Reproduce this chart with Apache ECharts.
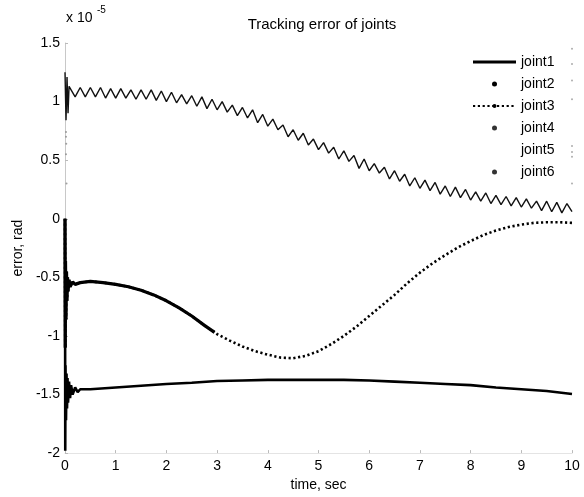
<!DOCTYPE html>
<html>
<head>
<meta charset="utf-8">
<script src="https://cdn.jsdelivr.net/npm/echarts@6/dist/echarts.min.js"></script>
<style>html,body{margin:0;padding:0;background:#fff}#c{width:584px;height:497px}</style>
</head>
<body>
<div id="c"></div>
<script>
// ---- data (units of 1e-5 rad) ----
const xTicks = [0,1,2,3,4,5,6,7,8,9,10];
const yTicks = [-2,-1.5,-1,-0.5,0,0.5,1,1.5];

const joint1T = [0,0.005,0.01,0.02,0.03,0.04,0.05,0.06,0.08,0.1,0.12,0.15,0.2,0.25,0.3,0.5,1,1.5,2,2.5,3,3.5,4,4.5,5,5.5,6,6.5,7,7.5,8,8.5,9,9.5,10];
const joint1V = [0,-1.98,-1.25,-1.72,-1.32,-1.62,-1.36,-1.57,-1.39,-1.53,-1.42,-1.5,-1.44,-1.48,-1.455,-1.455,-1.44,-1.425,-1.41,-1.40,-1.385,-1.38,-1.375,-1.375,-1.375,-1.375,-1.38,-1.39,-1.40,-1.41,-1.42,-1.44,-1.455,-1.47,-1.495];

const joint2T = [0,0.02,0.04,0.06,0.08,0.1,0.2,0.3,0.4,0.5,0.6,0.7,0.8,0.9,1.0,1.1,1.2,1.3,1.4,1.5,1.6,1.7,1.8,1.9,2.0,2.1,2.2,2.3,2.4,2.5,2.6,2.7,2.8,2.9,3.0,3.1,3.2,3.3,3.4,3.5,3.6,3.7,3.8,3.9,4.0,4.1,4.2,4.3,4.4,4.5,4.6,4.7,4.8,4.9,5.0,5.1,5.2,5.3,5.4,5.5,5.6,5.7,5.8,5.9,6.0,6.1,6.2,6.3,6.4,6.5,6.6,6.7,6.8,6.9,7.0,7.1,7.2,7.3,7.4,7.5,7.6,7.7,7.8,7.9,8.0,8.1,8.2,8.3,8.4,8.5,8.6,8.7,8.8,8.9,9.0,9.1,9.2,9.3,9.4,9.5,9.6,9.7,9.8,9.9,10.0];
const joint2V = [1.25,0.84,1.21,0.9,1.13,1.12,1.04,1.12,1.04,1.12,1.04,1.12,1.03,1.11,1.03,1.11,1.03,1.10,1.02,1.10,1.02,1.10,1.01,1.09,1.00,1.08,0.99,1.06,0.98,1.05,0.96,1.04,0.94,1.02,0.93,1.00,0.91,0.97,0.88,0.95,0.86,0.93,0.82,0.89,0.79,0.85,0.76,0.80,0.70,0.76,0.67,0.73,0.63,0.68,0.59,0.65,0.56,0.61,0.51,0.58,0.49,0.54,0.43,0.51,0.41,0.47,0.39,0.44,0.34,0.41,0.32,0.38,0.28,0.35,0.26,0.33,0.24,0.31,0.21,0.28,0.19,0.27,0.18,0.25,0.16,0.23,0.15,0.22,0.13,0.20,0.12,0.19,0.11,0.18,0.10,0.17,0.09,0.15,0.07,0.15,0.06,0.14,0.05,0.13,0.06];

const joint3T = [0,0.005,0.01,0.02,0.03,0.04,0.05,0.06,0.08,0.1,0.15,0.2,0.3,0.5,0.75,1,1.25,1.5,1.75,2,2.25,2.5,2.75,2.95,3,3.25,3.5,3.75,4,4.25,4.5,4.75,5,5.25,5.5,5.75,6,6.25,6.5,6.75,7,7.25,7.5,7.75,8,8.25,8.5,8.75,9,9.25,9.5,9.75,10];
const joint3V = [0,-1.1,-0.36,-0.86,-0.45,-0.7,-0.5,-0.62,-0.52,-0.58,-0.54,-0.56,-0.545,-0.535,-0.545,-0.56,-0.58,-0.61,-0.65,-0.70,-0.76,-0.83,-0.91,-0.97,-0.985,-1.04,-1.09,-1.13,-1.16,-1.185,-1.19,-1.17,-1.13,-1.07,-1.0,-0.92,-0.83,-0.74,-0.65,-0.55,-0.46,-0.38,-0.31,-0.245,-0.19,-0.14,-0.10,-0.07,-0.05,-0.035,-0.03,-0.03,-0.035];

const joint4T = [0.02,0.02,0.025,0.02,0.03];
const joint4V = [0.74,0.70,0.64,0.55,0.30];
const joint6T = [10,10,10,10,10,10,10,10];
const joint6V = [1.45,1.32,1.18,1.02,0.62,0.57,0.53,0.30];

function pairs(t, v){ return t.map((x,i)=>[x, v[i]]); }
const denseEnd = 24; // joint3 drawn as heavy line up to t=2.95

const chart = echarts.init(document.getElementById('c'), null, {renderer:'canvas'});
const font = 'Liberation Sans, Arial, sans-serif';
chart.setOption({
  animation:false,
  backgroundColor:'#fff',
  title:{text:'Tracking error of joints', left:317, textAlign:'center', top:12,
    textStyle:{fontFamily:font, fontSize:15, fontWeight:'normal', color:'#000'}},
  grid:{left:65, right:12, top:43, bottom:40},
  legend:{
    orient:'vertical', left:472, top:55, padding:0, itemWidth:43, itemHeight:5, itemGap:8,
    textStyle:{fontFamily:font, fontSize:14, color:'#000'},
    data:[
      {name:'joint1', icon:'path://M0,0h43v3h-43z', itemStyle:{color:'#000'}},
      {name:'joint2', icon:'circle', itemStyle:{color:'#000'}},
      {name:'joint3'},
      {name:'joint4', icon:'circle', itemStyle:{color:'#000'}},
      {name:'joint5', icon:'circle', itemStyle:{color:'rgba(0,0,0,0)'}},
      {name:'joint6', icon:'circle', itemStyle:{color:'#000'}}
    ]
  },
  xAxis:{type:'value', min:xTicks[0], max:xTicks[xTicks.length-1], interval:1,
    name:'time, sec', nameLocation:'middle', nameGap:23,
    nameTextStyle:{fontFamily:font, fontSize:14, color:'#000'},
    axisLine:{show:true, onZero:false, lineStyle:{color:'#e4e4e4'}},
    axisTick:{inside:true, length:3, lineStyle:{color:'#bbb'}},
    axisLabel:{fontFamily:font, fontSize:14, color:'#000', margin:6},
    splitLine:{show:false}},
  yAxis:{type:'value', min:yTicks[0], max:yTicks[yTicks.length-1], interval:0.5,
    name:'error, rad', nameLocation:'middle', nameGap:40,
    nameTextStyle:{fontFamily:font, fontSize:14, color:'#000'},
    axisLine:{show:true, onZero:false, lineStyle:{color:'#c8c8c8'}},
    axisTick:{inside:true, length:3, lineStyle:{color:'#bbb'}},
    axisLabel:{fontFamily:font, fontSize:14, color:'#000', margin:5},
    splitLine:{show:false}},
  graphic:[
    {type:'text', left:66, top:11, style:{text:'x 10', font:'14px '+font, fill:'#000'}},
    {type:'text', left:97, top:5, style:{text:'-5', font:'10px '+font, fill:'#000'}}
  ],
  series:[
    {name:'joint2', type:'line', data:pairs(joint2T, joint2V), symbol:'none',
      lineStyle:{color:'#111', width:1.4}, z:2},
    {name:'joint1', type:'line', data:pairs(joint1T, joint1V), symbol:'none',
      lineStyle:{color:'#000', width:2.6}, itemStyle:{color:'#000'}, z:3},
    {name:'joint3', type:'line', data:pairs(joint3T, joint3V), symbol:'circle', symbolSize:4, showSymbol:false,
      lineStyle:{color:'#000', width:2.6, type:[2.2,2.6]}, itemStyle:{color:'#000'}, z:3},
    {name:'joint3dense', type:'line', data:pairs(joint3T.slice(0,denseEnd), joint3V.slice(0,denseEnd)), symbol:'none',
      lineStyle:{color:'#000', width:3.2}, z:3},
    {name:'joint4', type:'scatter', data:pairs(joint4T, joint4V), symbol:'circle', symbolSize:2,
      itemStyle:{color:'#888'}},
    {name:'joint5', type:'line', data:[], symbol:'none'},
    {name:'joint6', type:'scatter', data:pairs(joint6T, joint6V), symbol:'circle', symbolSize:2,
      itemStyle:{color:'#999'}}
  ]
});
</script>
</body>
</html>
